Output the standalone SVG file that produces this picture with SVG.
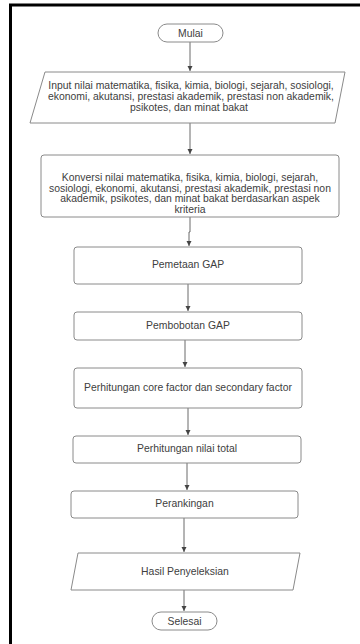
<svg xmlns="http://www.w3.org/2000/svg" width="360" height="644" viewBox="0 0 360 644">
<style>
.box{fill:#fff;stroke:#8a8a8a;stroke-width:1;stroke-linejoin:round}
.t{font-family:"Liberation Sans",Arial,sans-serif;font-size:10.4px;fill:#404040;text-anchor:middle}
.c{stroke:#6a6a6a;stroke-width:1;fill:none}
</style>
<defs>
<marker id="ah" markerWidth="6" markerHeight="6" refX="5" refY="3" orient="auto" markerUnits="userSpaceOnUse">
<path d="M0,0.5 L5,3 L0,5.5 Z" fill="#444"/>
</marker>
</defs>
<rect x="0" y="0" width="360" height="644" fill="#fff"/>
<path d="M10.5,644 V5 H360" fill="none" stroke="#000" stroke-width="3"/>
<g id="connectors">
<path class="c" d="M190,42 V71" marker-end="url(#ah)"/>
<path class="c" d="M190,123 V154" marker-end="url(#ah)"/>
<path class="c" d="M190,217 V232 H189 V246" marker-end="url(#ah)"/>
<path class="c" d="M188,284 V311" marker-end="url(#ah)"/>
<path class="c" d="M185,340 V367" marker-end="url(#ah)"/>
<path class="c" d="M188,408 V435" marker-end="url(#ah)"/>
<path class="c" d="M187,463 V490" marker-end="url(#ah)"/>
<path class="c" d="M184,518 V552" marker-end="url(#ah)"/>
<path class="c" d="M184,590 V611" marker-end="url(#ah)"/>
</g>
<g id="mulai">
<rect class="box" x="158" y="24" width="65" height="18" rx="9"/>
<text class="t" x="190.5" y="36.5">Mulai</text>
</g>
<g id="input">
<path class="box" d="M45,72 H345 L335,123 H30 Z"/>
<text class="t" x="191" y="89">Input nilai matematika, fisika, kimia, biologi, sejarah, sosiologi,</text>
<text class="t" x="191" y="100">ekonomi, akutansi, prestasi akademik, prestasi non akademik,</text>
<text class="t" x="189" y="111">psikotes, dan minat bakat</text>
</g>
<g id="konversi">
<rect class="box" x="41" y="155" width="298" height="62" rx="3"/>
<text class="t" x="190" y="181">Konversi nilai matematika, fisika, kimia, biologi, sejarah,</text>
<text class="t" x="190" y="191.5">sosiologi, ekonomi, akutansi, prestasi akademik, prestasi non</text>
<text class="t" x="190" y="202">akademik, psikotes, dan minat bakat berdasarkan aspek</text>
<text class="t" x="190" y="212.5">kriteria</text>
</g>
<g id="pemetaan">
<rect class="box" x="74" y="247" width="228" height="37" rx="3"/>
<text class="t" x="188" y="268">Pemetaan GAP</text>
</g>
<g id="pembobotan">
<rect class="box" x="74" y="312" width="228" height="28" rx="3"/>
<text class="t" x="188" y="329">Pembobotan GAP</text>
</g>
<g id="core">
<rect class="box" x="74" y="368" width="228" height="40" rx="3"/>
<text class="t" x="188" y="391">Perhitungan core factor dan secondary factor</text>
</g>
<g id="total">
<rect class="box" x="73" y="436" width="228" height="27" rx="3"/>
<text class="t" x="187" y="452">Perhitungan nilai total</text>
</g>
<g id="ranking">
<rect class="box" x="71" y="491" width="227" height="27" rx="3"/>
<text class="t" x="184.5" y="507">Perankingan</text>
</g>
<g id="hasil">
<path class="box" d="M78,553 H300 L293,590 H71 Z"/>
<text class="t" x="185" y="575">Hasil Penyeleksian</text>
</g>
<g id="selesai">
<rect class="box" x="152" y="612" width="65" height="18" rx="9"/>
<text class="t" x="184.5" y="624.5">Selesai</text>
</g>
</svg>
